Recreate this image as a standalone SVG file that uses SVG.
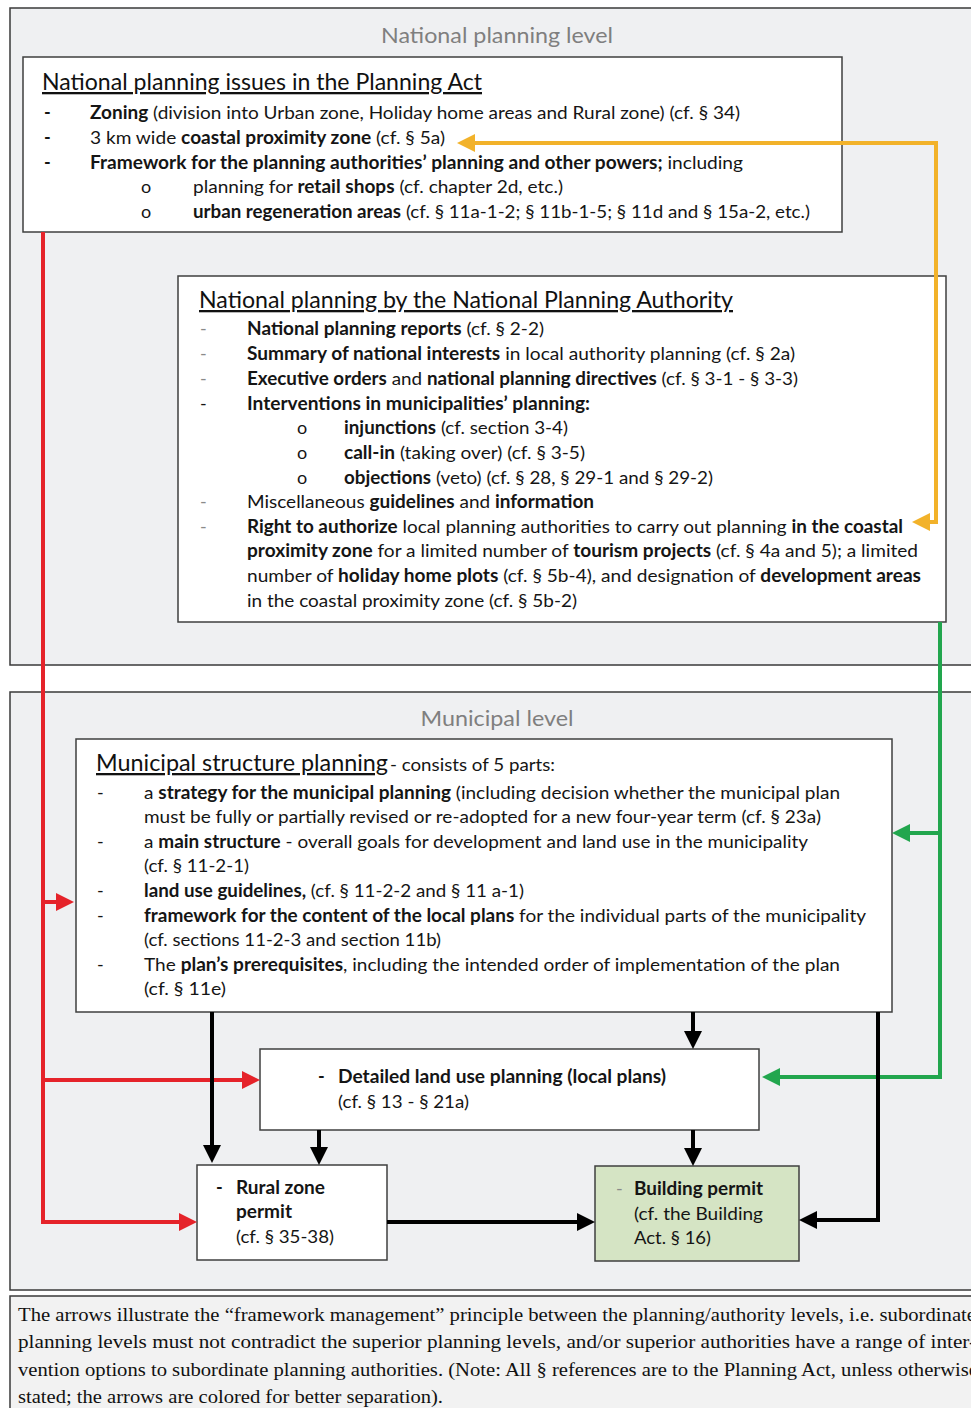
<svg xmlns="http://www.w3.org/2000/svg" width="971" height="1408" viewBox="0 0 971 1408">
<style>
.panel{fill:#eff0f2;stroke:#3a3a3a;stroke-width:1.5}
.box{fill:#ffffff;stroke:#3f3f3f;stroke-width:1.5}
.green{fill:#d5e4c4;stroke:#3f3f3f;stroke-width:1.5}
.t{font-family:Lato,"Open Sans",sans-serif;font-size:18px;fill:#151515}
.b{font-weight:700}
.d{fill:#8a8a8a}
.h{font-family:Lato,"Open Sans",sans-serif;font-size:23px;fill:#111;text-decoration:underline}
.lvl{font-family:Lato,"Open Sans",sans-serif;font-size:21px;fill:#7f7f7f;text-anchor:middle}
.cap{font-family:"Liberation Serif",serif;font-size:19px;fill:#111}
.c{fill:none;stroke-width:4;stroke-linejoin:miter}
.y{stroke:#f2b22a}.r{stroke:#e5232a}.g{stroke:#22a64e}.k{stroke:#000}
</style>
<defs>
<marker id="ay" viewBox="0 0 18 18" markerUnits="userSpaceOnUse" markerWidth="18" markerHeight="18" refX="10" refY="9" orient="auto-start-reverse"><path d="M0,0 L18,9 L0,18 z" fill="#f2b22a"/></marker>
<marker id="ar" viewBox="0 0 18 18" markerUnits="userSpaceOnUse" markerWidth="18" markerHeight="18" refX="10" refY="9" orient="auto"><path d="M0,0 L18,9 L0,18 z" fill="#e5232a"/></marker>
<marker id="ag" viewBox="0 0 18 18" markerUnits="userSpaceOnUse" markerWidth="18" markerHeight="18" refX="10" refY="9" orient="auto"><path d="M0,0 L18,9 L0,18 z" fill="#22a64e"/></marker>
<marker id="ak" viewBox="0 0 18 18" markerUnits="userSpaceOnUse" markerWidth="18" markerHeight="18" refX="10" refY="9" orient="auto"><path d="M0,0 L18,9 L0,18 z" fill="#000"/></marker>
</defs>
<rect width="971" height="1408" fill="#ffffff"/>

<g id="national-level">
<rect class="panel" x="10" y="8" width="1000" height="657"/>
<text class="lvl" x="497" y="43" textLength="232" lengthAdjust="spacingAndGlyphs">National planning level</text>
</g>
<g id="municipal-level">
<rect class="panel" x="10" y="692" width="1000" height="598"/>
<text class="lvl" x="497" y="726" textLength="153" lengthAdjust="spacingAndGlyphs">Municipal level</text>
</g>

<g id="national-issues">
<rect class="box" x="23" y="57" width="819" height="175"/>
<text class="h" x="42" y="90" textLength="440" lengthAdjust="spacingAndGlyphs">National planning issues in the Planning Act</text>
<text class="t b" x="44" y="119">-</text>
<text class="t" x="90" y="119" textLength="650" lengthAdjust="spacingAndGlyphs"><tspan class="b">Zoning</tspan> (division into Urban zone, Holiday home areas and Rural zone) (cf. § 34)</text>
<text class="t b" x="44" y="144">-</text>
<text class="t" x="90" y="144" textLength="355" lengthAdjust="spacingAndGlyphs">3 km wide <tspan class="b">coastal proximity zone</tspan> (cf. § 5a)</text>
<text class="t b" x="44" y="169">-</text>
<text class="t" x="90" y="169" textLength="653" lengthAdjust="spacingAndGlyphs"><tspan class="b">Framework for the planning authorities’ planning and other powers;</tspan> including</text>
<text class="t" x="141" y="193">o</text>
<text class="t" x="193" y="193" textLength="370" lengthAdjust="spacingAndGlyphs">planning for <tspan class="b">retail shops</tspan> (cf. chapter 2d, etc.)</text>
<text class="t" x="141" y="218">o</text>
<text class="t" x="193" y="218" textLength="617" lengthAdjust="spacingAndGlyphs"><tspan class="b">urban regeneration areas</tspan> (cf. § 11a-1-2; § 11b-1-5; § 11d and § 15a-2, etc.)</text>
</g>

<g id="national-authority">
<rect class="box" x="178" y="276" width="768" height="346"/>
<text class="h" x="199" y="308" textLength="534" lengthAdjust="spacingAndGlyphs">National planning by the National Planning Authority</text>
<text class="t d" x="200" y="335">-</text>
<text class="t" x="247" y="335" textLength="297" lengthAdjust="spacingAndGlyphs"><tspan class="b">National planning reports</tspan> (cf. § 2-2)</text>
<text class="t d" x="200" y="360">-</text>
<text class="t" x="247" y="360" textLength="548" lengthAdjust="spacingAndGlyphs"><tspan class="b">Summary of national interests</tspan> in local authority planning (cf. § 2a)</text>
<text class="t d" x="200" y="385">-</text>
<text class="t" x="247" y="385" textLength="551" lengthAdjust="spacingAndGlyphs"><tspan class="b">Executive orders</tspan> and <tspan class="b">national planning directives</tspan> (cf. § 3-1 - § 3-3)</text>
<text class="t" x="200" y="410">-</text>
<text class="t b" x="247" y="410" textLength="343" lengthAdjust="spacingAndGlyphs">Interventions in municipalities’ planning:</text>
<text class="t" x="297" y="434">o</text>
<text class="t" x="344" y="434" textLength="224" lengthAdjust="spacingAndGlyphs"><tspan class="b">injunctions</tspan> (cf. section 3-4)</text>
<text class="t" x="297" y="459">o</text>
<text class="t" x="344" y="459" textLength="241" lengthAdjust="spacingAndGlyphs"><tspan class="b">call-in</tspan> (taking over) (cf. § 3-5)</text>
<text class="t" x="297" y="484">o</text>
<text class="t" x="344" y="484" textLength="369" lengthAdjust="spacingAndGlyphs"><tspan class="b">objections</tspan> (veto) (cf. § 28, § 29-1 and § 29-2)</text>
<text class="t d" x="200" y="508">-</text>
<text class="t" x="247" y="508" textLength="347" lengthAdjust="spacingAndGlyphs">Miscellaneous <tspan class="b">guidelines</tspan> and <tspan class="b">information</tspan></text>
<text class="t d" x="200" y="533">-</text>
<text class="t" x="247" y="533" textLength="656" lengthAdjust="spacingAndGlyphs"><tspan class="b">Right to authorize</tspan> local planning authorities to carry out planning <tspan class="b">in the coastal</tspan></text>
<text class="t" x="247" y="557" textLength="671" lengthAdjust="spacingAndGlyphs"><tspan class="b">proximity zone</tspan> for a limited number of <tspan class="b">tourism projects</tspan> (cf. § 4a and 5); a limited</text>
<text class="t" x="247" y="582" textLength="674" lengthAdjust="spacingAndGlyphs">number of <tspan class="b">holiday home plots</tspan> (cf. § 5b-4), and designation of <tspan class="b">development areas</tspan></text>
<text class="t" x="247" y="607" textLength="330" lengthAdjust="spacingAndGlyphs">in the coastal proximity zone (cf. § 5b-2)</text>
</g>

<g id="municipal-structure">
<rect class="box" x="76" y="739" width="816" height="273"/>
<text class="h" x="96" y="771" textLength="292" lengthAdjust="spacingAndGlyphs">Municipal structure planning </text>
<text class="t" x="390" y="771" textLength="165" lengthAdjust="spacingAndGlyphs">- consists of 5 parts:</text>
<text class="t" x="97" y="799">-</text>
<text class="t" x="144" y="799" textLength="696" lengthAdjust="spacingAndGlyphs">a <tspan class="b">strategy for the municipal planning</tspan> (including decision whether the municipal plan</text>
<text class="t" x="144" y="823" textLength="677" lengthAdjust="spacingAndGlyphs">must be fully or partially revised or re-adopted for a new four-year term (cf. § 23a)</text>
<text class="t" x="97" y="848">-</text>
<text class="t" x="144" y="848" textLength="664" lengthAdjust="spacingAndGlyphs">a <tspan class="b">main structure</tspan> - overall goals for development and land use in the municipality</text>
<text class="t" x="144" y="872" textLength="105" lengthAdjust="spacingAndGlyphs">(cf. § 11-2-1)</text>
<text class="t" x="97" y="897">-</text>
<text class="t" x="144" y="897" textLength="380" lengthAdjust="spacingAndGlyphs"><tspan class="b">land use guidelines,</tspan> (cf. § 11-2-2 and § 11 a-1)</text>
<text class="t" x="97" y="922">-</text>
<text class="t" x="144" y="922" textLength="722" lengthAdjust="spacingAndGlyphs"><tspan class="b">framework for the content of the local plans</tspan> for the individual parts of the municipality</text>
<text class="t" x="144" y="946" textLength="297" lengthAdjust="spacingAndGlyphs">(cf. sections 11-2-3 and section 11b)</text>
<text class="t" x="97" y="971">-</text>
<text class="t" x="144" y="971" textLength="696" lengthAdjust="spacingAndGlyphs">The <tspan class="b">plan’s prerequisites</tspan>, including the intended order of implementation of the plan</text>
<text class="t" x="144" y="995" textLength="82" lengthAdjust="spacingAndGlyphs">(cf. § 11e)</text>
</g>

<g id="detailed-planning">
<rect class="box" x="260" y="1049" width="499" height="81"/>
<text class="t b" x="318" y="1083">-</text>
<text class="t b" x="338" y="1083" textLength="328" lengthAdjust="spacingAndGlyphs">Detailed land use planning (local plans)</text>
<text class="t" x="338" y="1108" textLength="131" lengthAdjust="spacingAndGlyphs">(cf. § 13 - § 21a)</text>
</g>

<g id="rural-permit">
<rect class="box" x="197" y="1165" width="190" height="95"/>
<text class="t b" x="216" y="1194">-</text>
<text class="t b" x="236" y="1194" textLength="89" lengthAdjust="spacingAndGlyphs">Rural zone</text>
<text class="t b" x="236" y="1218" textLength="56" lengthAdjust="spacingAndGlyphs">permit</text>
<text class="t" x="236" y="1243" textLength="98" lengthAdjust="spacingAndGlyphs">(cf. § 35-38)</text>
</g>

<g id="building-permit">
<rect class="green" x="595" y="1166" width="204" height="95"/>
<text class="t d" x="616" y="1195">-</text>
<text class="t b" x="634" y="1195" textLength="129" lengthAdjust="spacingAndGlyphs">Building permit</text>
<text class="t" x="634" y="1220" textLength="129" lengthAdjust="spacingAndGlyphs">(cf. the Building</text>
<text class="t" x="634" y="1244" textLength="77" lengthAdjust="spacingAndGlyphs">Act. § 16)</text>
</g>

<g id="caption">
<rect x="10" y="1296" width="1000" height="200" fill="#f2f2f2" stroke="#3a3a3a" stroke-width="1.5"/>
<text class="cap" x="18" y="1321" textLength="958" lengthAdjust="spacingAndGlyphs">The arrows illustrate the “framework management” principle between the planning/authority levels, i.e. subordinate</text>
<text class="cap" x="18" y="1348" textLength="958" lengthAdjust="spacingAndGlyphs">planning levels must not contradict the superior planning levels, and/or superior authorities have a range of inter-</text>
<text class="cap" x="18" y="1376" textLength="960" lengthAdjust="spacingAndGlyphs">vention options to subordinate planning authorities. (Note: All § references are to the Planning Act, unless otherwise</text>
<text class="cap" x="18" y="1403" textLength="425" lengthAdjust="spacingAndGlyphs">stated; the arrows are colored for better separation).</text>
</g>

<g id="connectors">
<path class="c y" d="M920 522 L936 522 L936 143 L465 143" marker-start="url(#ay)" marker-end="url(#ay)"/>
<path class="c r" d="M43 232 L43 1222 L189 1222" marker-end="url(#ar)"/>
<path class="c r" d="M43 902 L66 902" marker-end="url(#ar)"/>
<path class="c r" d="M43 1080 L252 1080" marker-end="url(#ar)"/>
<path class="c g" d="M940 622 L940 1077 L770 1077" marker-end="url(#ag)"/>
<path class="c g" d="M940 833 L900 833" marker-end="url(#ag)"/>
<path class="c k" d="M212 1012 L212 1155" marker-end="url(#ak)"/>
<path class="c k" d="M693 1012 L693 1041" marker-end="url(#ak)"/>
<path class="c k" d="M319 1130 L319 1157" marker-end="url(#ak)"/>
<path class="c k" d="M693 1130 L693 1158" marker-end="url(#ak)"/>
<path class="c k" d="M878 1012 L878 1220 L807 1220" marker-end="url(#ak)"/>
<path class="c k" d="M387 1222 L587 1222" marker-end="url(#ak)"/>
</g>
</svg>
